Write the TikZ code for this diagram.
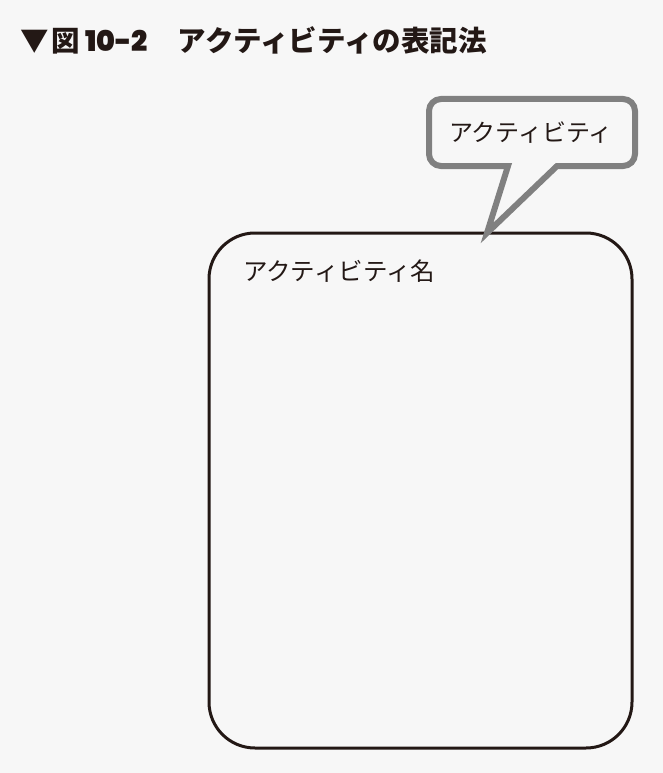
\documentclass[tikz,border=0pt]{standalone}
\usepackage{fontspec}
\setmainfont{Noto Sans CJK JP}
\newfontfamily\latinbold{Poppins}[UprightFont=* Bold]
\definecolor{hintergrund}{HTML}{F7F7F7}
\definecolor{tinte}{HTML}{231815}
\definecolor{sprechgrau}{HTML}{808080}

\begin{document}
\begin{tikzpicture}[x=1pt,y=-1pt]
% Background
\fill[hintergrund] (0,0) rectangle (663,773);
\useasboundingbox (0,0) rectangle (663,773);

% Title
\node[font=\fontsize{28.5}{31}\selectfont\bfseries, text=tinte, anchor=west, inner sep=0pt] (titel) at (20,40)
  {▼\hspace{3pt}図\hspace{5pt}{\latinbold 10-2}\hspace{30pt}アクティビティの表記法};

% Activity box
\node[draw=tinte, line width=3pt, rounded corners=46pt, minimum width=423pt, minimum height=515pt, inner sep=0pt] (aktivitaet) at (420.5,490.5) {};
\node[font=\fontsize{24.5}{27}\selectfont, text=tinte, anchor=west, inner sep=0pt] (aktname) at (243,271) {アクティビティ名};

% Callout
\coordinate (spitze) at (487,233);
\draw[sprechgrau, line width=6pt, fill=hintergrund, line join=miter]
  (508,166) [rounded corners=12pt] -- (429,166) -- (429,99) -- (635,99) -- (635,166) [sharp corners] -- (557,166) -- (spitze) -- cycle;
\node[font=\fontsize{24}{27}\selectfont, text=tinte, inner sep=0pt] (sprechtext) at (531,133) {アクティビティ};
\end{tikzpicture}
\end{document}
